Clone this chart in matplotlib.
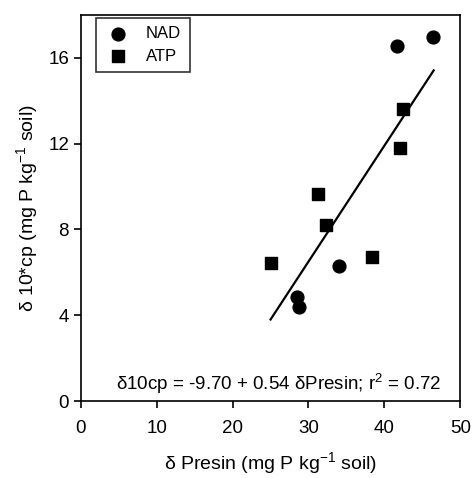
import matplotlib.pyplot as plt
import numpy as np

plt.rcParams['font.family'] = ['Liberation Sans', 'DejaVu Sans']
plt.rcParams['mathtext.fontset'] = 'custom'
plt.rcParams['mathtext.rm'] = 'Liberation Sans'
plt.rcParams['mathtext.it'] = 'Liberation Sans'
plt.rcParams['mathtext.default'] = 'regular'

# NAD (circles)
nad_x = [41.7, 46.4, 34.0, 28.5, 28.8]
nad_y = [16.55, 16.95, 6.3, 4.85, 4.4]

# ATP (squares)
atp_x = [25.1, 32.3, 38.4, 42.5, 42.1, 31.3]
atp_y = [6.45, 8.2, 6.7, 13.6, 11.8, 9.65]

# regression: d10cp = -9.70 + 0.54 dPresin
intercept = -9.70
slope = 0.54
fit_range = [25.0, 46.5]

fig = plt.figure(figsize=(4.73, 4.78), dpi=100)
ax = fig.add_axes([0.171, 0.161, 0.802, 0.808])

ax.scatter(nad_x, nad_y, marker='o', s=85, color='black', label='NAD', zorder=3)
ax.scatter(atp_x, atp_y, marker='s', s=85, color='black', label='ATP', zorder=3)

xf = np.array(fit_range)
ax.plot(xf, intercept + slope * xf, color='black', lw=1.6)

ax.set_xlim(0, 50)
ax.set_ylim(0, 18)
ax.set_xticks([0, 10, 20, 30, 40, 50])
ax.set_yticks([0, 4, 8, 12, 16])
ax.tick_params(direction='out', length=5, labelsize=13.5, width=1.2)
ax.tick_params(axis='x', pad=9)
for s in ax.spines.values():
    s.set_linewidth(1.2)

ax.set_xlabel('δ Presin (mg P kg$^{-1}$ soil)', fontsize=14, labelpad=9)
ax.set_ylabel('δ 10*cp (mg P kg$^{-1}$ soil)', fontsize=14, labelpad=6)

ax.text(0.52, 0.012, 'δ10cp = -9.70 + 0.54 δPresin; r$^2$ = 0.72',
        transform=ax.transAxes, ha='center', va='bottom', fontsize=13.5)

leg = ax.legend(loc='upper left', bbox_to_anchor=(0.04, 0.992), borderaxespad=0,
                fontsize=12, frameon=True, fancybox=False,
                edgecolor='black', handletextpad=0.9, handlelength=1.6,
                scatterpoints=1, borderpad=0.5, labelspacing=0.45)
leg.get_frame().set_linewidth(1.2)

fig.savefig('out.png', dpi=100)
